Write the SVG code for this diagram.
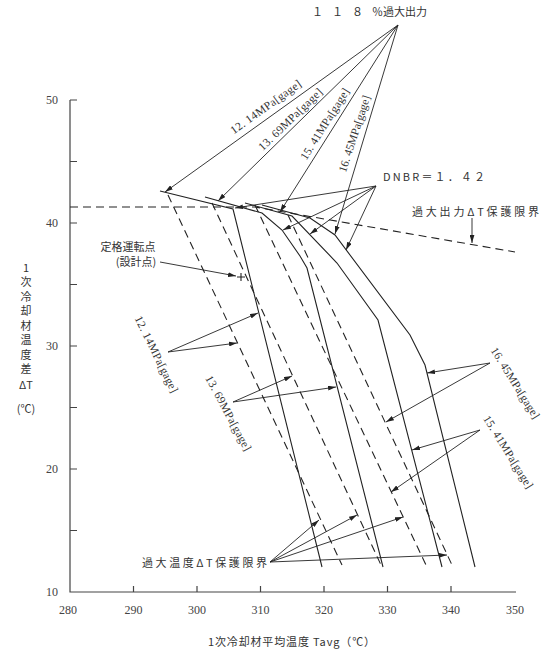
<svg xmlns="http://www.w3.org/2000/svg" width="541" height="653" viewBox="0 0 541 653">
<defs>
<marker id="ah" viewBox="0 0 10 6" refX="10" refY="3" markerWidth="8" markerHeight="5" orient="auto" markerUnits="userSpaceOnUse"><path d="M0,0 L10,3 L0,6 z" fill="#222"/></marker>
</defs>
<style>
.ax{stroke:#444;stroke-width:1.2;fill:none}
.s{stroke:#222;stroke-width:1.1;fill:none}
.d{stroke:#222;stroke-width:1.1;fill:none;stroke-dasharray:8 5}
.a{stroke:#222;stroke-width:0.9;fill:none;marker-end:url(#ah)}
.n{font-family:"Liberation Serif",serif;font-size:12px;fill:#444}
.j{font-family:"Noto Sans CJK JP",sans-serif;font-size:11px;fill:#333}
.p{font-family:"Liberation Serif",serif;font-size:11.5px;fill:#333}
.v{writing-mode:vertical-rl;text-orientation:upright;letter-spacing:3.5px}
</style>
<rect width="541" height="653" fill="#fff"/>
<g id="axes">
<path class="ax" d="M70,100 V592 H516"/>
<path class="ax" d="M70,100h7M70,161.5h7M70,223h7M70,284.5h7M70,346h7M70,407.5h7M70,469h7M70,530.5h7"/>
<path class="ax" d="M133.5,592v-6M197,592v-6M260.5,592v-6M324,592v-6M387.5,592v-6M451,592v-6"/>
<g class="n" text-anchor="middle">
<text x="52" y="104">50</text><text x="52" y="227">40</text><text x="52" y="350">30</text><text x="52" y="473">20</text><text x="52" y="596">10</text>
<text x="68" y="614">280</text><text x="133.5" y="614">290</text><text x="197" y="614">300</text><text x="260.5" y="614">310</text><text x="324" y="614">320</text><text x="387.5" y="614">330</text><text x="451" y="614">340</text><text x="515" y="614">350</text>
</g>
<text class="j" x="208" y="646" textLength="167">1次冷却材平均温度 Tavg（℃）</text>
<text class="j v" x="26" y="262" font-size="10.5">1次冷却材温度差</text>
<text class="j" x="26" y="389" font-size="10.5" text-anchor="middle">ΔT</text>
<text class="j" x="26" y="413" font-size="10.5" text-anchor="middle">(℃)</text>
</g>
<g id="curves">
<path id="overpower-limit" class="d" d="M70,207 H255 L515,252"/>
<path id="dnbr-12-14" class="s" d="M160,191 L233,209 L322,567"/>
<path id="dnbr-13-69" class="s" d="M205,197 L262,213 L282,230 L300,256 L307,268 L383,567"/>
<path id="dnbr-15-41" class="s" d="M245,203 L292,216 L337,263 L378,320 L442,567"/>
<path id="dnbr-16-45" class="s" d="M262,205 L310,218 L335,235 L410,335 L425,365 L475,567"/>
<path id="ot-12-14" class="d" d="M168,195 L342,565"/>
<path id="ot-13-69" class="d" d="M212,203 L381,565"/>
<path id="ot-15-41" class="d" d="M255,205 L426,565"/>
<path id="ot-16-45" class="d" d="M288,215 L452,565"/>
<path id="design-point" class="s" d="M237,277h8M241,273v8"/>
</g>
<g id="connectors">
<line class="a" x1="398" y1="25" x2="165" y2="192"/>
<line class="a" x1="398" y1="25" x2="218" y2="201"/>
<line class="a" x1="398" y1="25" x2="280" y2="212"/>
<line class="a" x1="398" y1="25" x2="335" y2="234"/>
<line class="a" x1="376" y1="186" x2="235" y2="208"/>
<line class="a" x1="376" y1="186" x2="283" y2="230"/>
<line class="a" x1="376" y1="186" x2="310" y2="234"/>
<line class="a" x1="376" y1="186" x2="346" y2="250"/>
<line class="a" x1="472" y1="218" x2="472" y2="243"/>
<line class="a" x1="160" y1="262" x2="236" y2="276"/>
<line class="a" x1="168" y1="352" x2="258" y2="313"/>
<line class="a" x1="168" y1="352" x2="237" y2="343"/>
<line class="a" x1="233" y1="402" x2="292" y2="376"/>
<line class="a" x1="233" y1="402" x2="336" y2="387"/>
<line class="a" x1="490" y1="363" x2="427" y2="373"/>
<line class="a" x1="490" y1="363" x2="386" y2="422"/>
<line class="a" x1="480" y1="430" x2="412" y2="450"/>
<line class="a" x1="480" y1="430" x2="391" y2="492"/>
<line class="a" x1="270" y1="562" x2="319" y2="520"/>
<line class="a" x1="270" y1="562" x2="357" y2="515"/>
<line class="a" x1="270" y1="562" x2="403" y2="517"/>
<line class="a" x1="270" y1="562" x2="447" y2="555"/>
</g>
<g id="labels">
<g id="lbl-118"><text class="j" x="312" y="16" font-size="12.5"><tspan letter-spacing="9">１１８</tspan>％過大出力</text></g>
<g id="lbl-dnbr"><text class="j" x="383" y="181" font-size="12" textLength="102">DNBR＝１．４２</text></g>
<g id="lbl-op"><text class="j" x="412" y="216" textLength="127">過大出力ΔT保護限界</text></g>
<g id="lbl-ot"><text class="j" x="142" y="567" textLength="125">過大温度ΔT保護限界</text></g>
<g id="lbl-design"><text class="j" x="128" y="251" font-size="10.5" text-anchor="middle">定格運転点</text><text class="j" x="136" y="266" font-size="10.5" text-anchor="middle">(設計点)</text></g>
<g class="p" text-anchor="middle">
<text transform="translate(268,110) rotate(-35.6)" textLength="84">12. 14MPa[gage]</text>
<text transform="translate(293,122) rotate(-44)" textLength="84">13. 69MPa[gage]</text>
<text transform="translate(328,126) rotate(-58)" textLength="82">15. 41MPa[gage]</text>
<text transform="translate(358,135) rotate(-72)" textLength="80">16. 45MPa[gage]</text>
<text transform="translate(153,356) rotate(63.7)" textLength="84">12. 14MPa[gage]</text>
<text transform="translate(225,415) rotate(61.6)" textLength="84">13. 69MPa[gage]</text>
<text transform="translate(512,385) rotate(58)" textLength="82">16. 45MPa[gage]</text>
<text transform="translate(505,454) rotate(58)" textLength="84">15. 41MPa[gage]</text>
</g>
</g>
</svg>
